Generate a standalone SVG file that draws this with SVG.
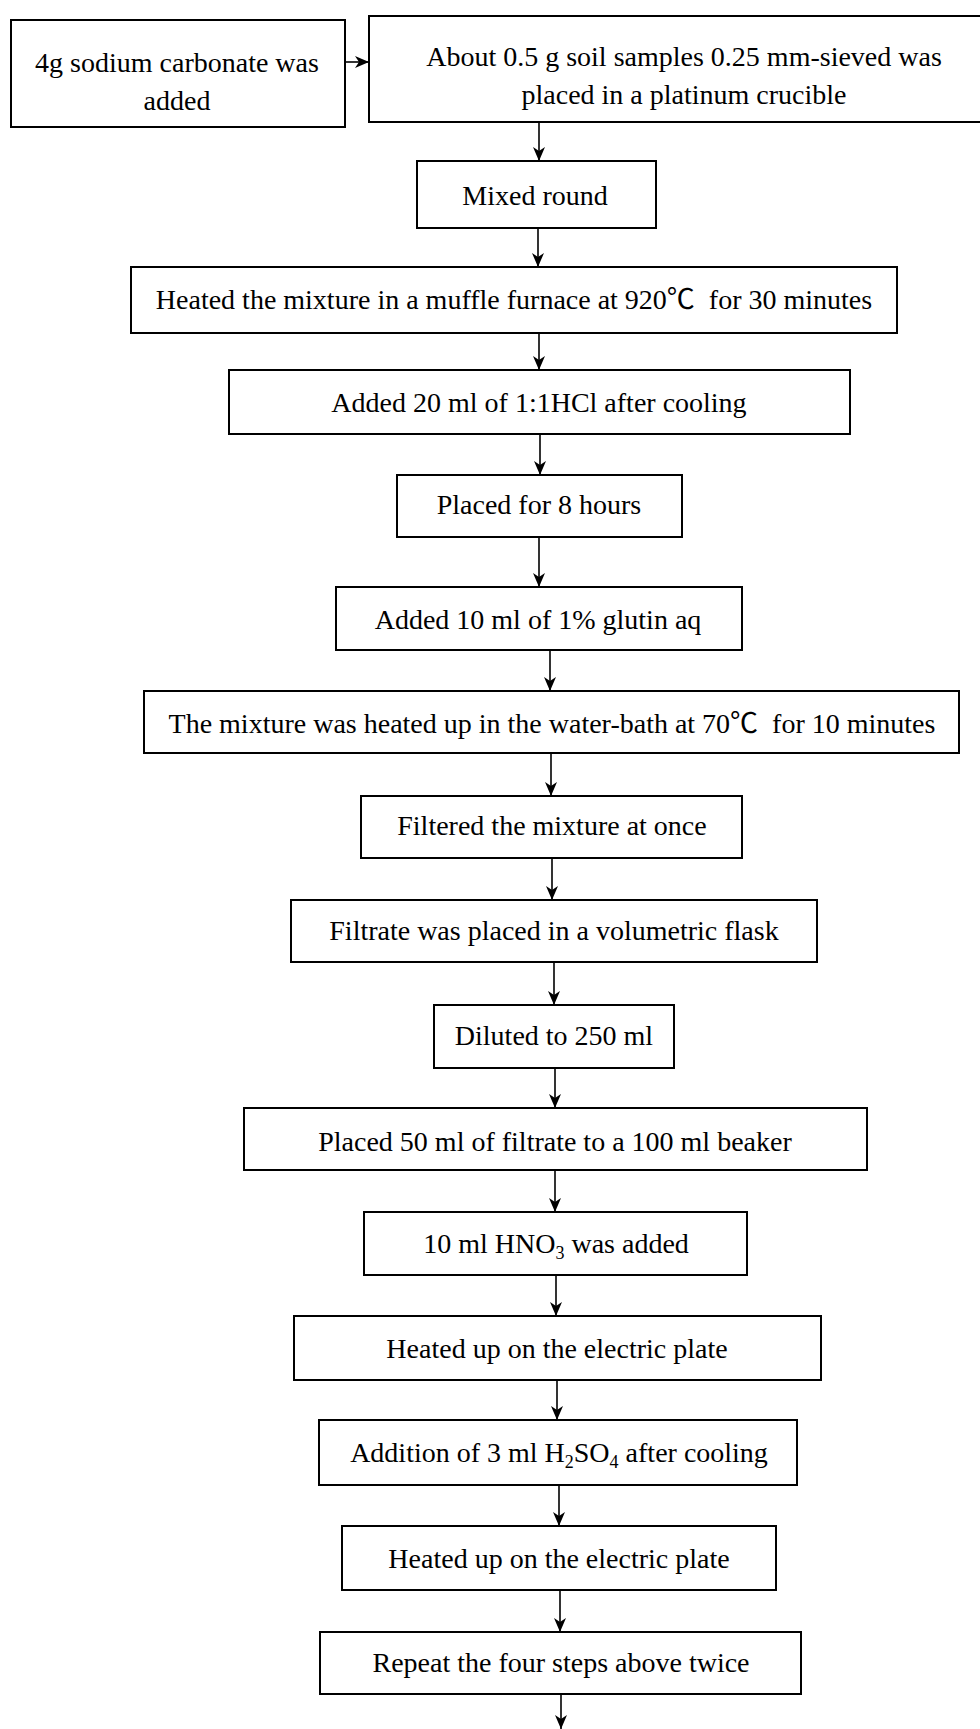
<svg xmlns="http://www.w3.org/2000/svg" width="980" height="1729" viewBox="0 0 980 1729">
  <style>
    .box { fill: #fff; stroke: #000; stroke-width: 2; }
    .lbl { font-family: "Liberation Serif", "Times New Roman", "Noto Sans CJK SC", serif; font-size: 28px; fill: #000; text-anchor: middle; }
    .sub { font-size: 18px; }
    .conn { fill: none; stroke: #000; stroke-width: 1.6; marker-end: url(#arrow); }
  </style>
  <defs>
    <marker id="arrow" markerUnits="userSpaceOnUse" viewBox="0 0 14 12" refX="14" refY="6" markerWidth="14" markerHeight="12" orient="auto">
      <path d="M0,0 L14,6 L0,12 L4,6 z" fill="#000"/>
    </marker>
  </defs>
  <rect width="980" height="1729" fill="#fff"/>

  <!-- connectors -->
  <g id="connectors">
    <line class="conn" x1="345" y1="62" x2="369" y2="62"/>
    <line class="conn" x1="539" y1="122" x2="539" y2="161"/>
    <line class="conn" x1="538" y1="228" x2="538" y2="267"/>
    <line class="conn" x1="539" y1="333" x2="539" y2="370"/>
    <line class="conn" x1="540" y1="434" x2="540" y2="475"/>
    <line class="conn" x1="539" y1="537" x2="539" y2="587"/>
    <line class="conn" x1="550" y1="650" x2="550" y2="691"/>
    <line class="conn" x1="551" y1="753" x2="551" y2="796"/>
    <line class="conn" x1="552" y1="858" x2="552" y2="900"/>
    <line class="conn" x1="554" y1="962" x2="554" y2="1005"/>
    <line class="conn" x1="555" y1="1068" x2="555" y2="1108"/>
    <line class="conn" x1="555" y1="1170" x2="555" y2="1212"/>
    <line class="conn" x1="556" y1="1275" x2="556" y2="1316"/>
    <line class="conn" x1="557" y1="1380" x2="557" y2="1420"/>
    <line class="conn" x1="559" y1="1485" x2="559" y2="1526"/>
    <line class="conn" x1="560" y1="1590" x2="560" y2="1632"/>
    <line class="conn" x1="561" y1="1694" x2="561" y2="1729"/>
  </g>

  <!-- process steps -->
  <g id="n-carbonate">
    <rect class="box" x="11" y="20" width="334" height="107"/>
    <text class="lbl" x="177" y="72">4g sodium carbonate was</text>
    <text class="lbl" x="177" y="110">added</text>
  </g>
  <g id="n-sample">
    <rect class="box" x="369" y="16" width="614" height="106"/>
    <text class="lbl" x="684" y="66">About 0.5 g soil samples 0.25 mm-sieved was</text>
    <text class="lbl" x="684" y="104">placed in a platinum crucible</text>
  </g>
  <g id="n-mix">
    <rect class="box" x="417" y="161" width="239" height="67"/>
    <text class="lbl" x="535" y="205">Mixed round</text>
  </g>
  <g id="n-furnace">
    <rect class="box" x="131" y="267" width="766" height="66"/>
    <text class="lbl" x="514" y="309" xml:space="preserve">Heated the mixture in a muffle furnace at 920℃  for 30 minutes</text>
  </g>
  <g id="n-hcl">
    <rect class="box" x="229" y="370" width="621" height="64"/>
    <text class="lbl" x="539" y="412">Added 20 ml of 1:1HCl after cooling</text>
  </g>
  <g id="n-stand">
    <rect class="box" x="397" y="475" width="285" height="62"/>
    <text class="lbl" x="539" y="514">Placed for 8 hours</text>
  </g>
  <g id="n-glutin">
    <rect class="box" x="336" y="587" width="406" height="63"/>
    <text class="lbl" x="538" y="629">Added 10 ml of 1% glutin aq</text>
  </g>
  <g id="n-waterbath">
    <rect class="box" x="144" y="691" width="815" height="62"/>
    <text class="lbl" x="552" y="733" xml:space="preserve">The mixture was heated up in the water-bath at 70℃  for 10 minutes</text>
  </g>
  <g id="n-filter">
    <rect class="box" x="361" y="796" width="381" height="62"/>
    <text class="lbl" x="552" y="835">Filtered the mixture at once</text>
  </g>
  <g id="n-flask">
    <rect class="box" x="291" y="900" width="526" height="62"/>
    <text class="lbl" x="554" y="940">Filtrate was placed in a volumetric flask</text>
  </g>
  <g id="n-dilute">
    <rect class="box" x="434" y="1005" width="240" height="63"/>
    <text class="lbl" x="554" y="1045">Diluted to 250 ml</text>
  </g>
  <g id="n-beaker">
    <rect class="box" x="244" y="1108" width="623" height="62"/>
    <text class="lbl" x="555" y="1151">Placed 50 ml of filtrate to a 100 ml beaker</text>
  </g>
  <g id="n-hno3">
    <rect class="box" x="364" y="1212" width="383" height="63"/>
    <text class="lbl" x="556" y="1253">10 ml HNO<tspan class="sub" dy="6">3</tspan><tspan dy="-6"> was added</tspan></text>
  </g>
  <g id="n-heat1">
    <rect class="box" x="294" y="1316" width="527" height="64"/>
    <text class="lbl" x="557" y="1358">Heated up on the electric plate</text>
  </g>
  <g id="n-h2so4">
    <rect class="box" x="319" y="1420" width="478" height="65"/>
    <text class="lbl" x="559" y="1462">Addition of 3 ml H<tspan class="sub" dy="6">2</tspan><tspan dy="-6">SO</tspan><tspan class="sub" dy="6">4</tspan><tspan dy="-6"> after cooling</tspan></text>
  </g>
  <g id="n-heat2">
    <rect class="box" x="342" y="1526" width="434" height="64"/>
    <text class="lbl" x="559" y="1568">Heated up on the electric plate</text>
  </g>
  <g id="n-repeat">
    <rect class="box" x="320" y="1632" width="481" height="62"/>
    <text class="lbl" x="561" y="1672">Repeat the four steps above twice</text>
  </g>
</svg>
